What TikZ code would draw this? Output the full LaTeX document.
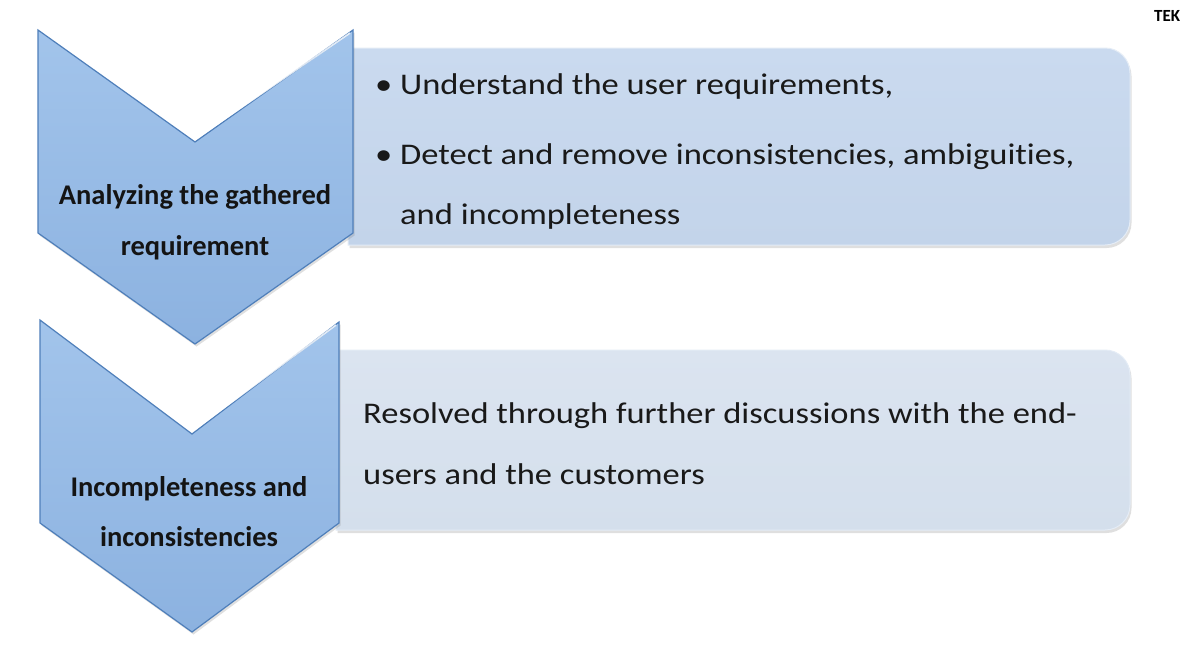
\documentclass[tikz,border=0pt]{standalone}
\usepackage{fontspec}
\setmainfont{Carlito}[Ligatures=NoCommon]
\newfontfamily\bodyfont{Carlito}[Ligatures=NoCommon, FakeStretch=1.15]
\usetikzlibrary{shadows}
\definecolor{chevtop}{HTML}{A2C4EB}
\definecolor{chevbot}{HTML}{8CB2E0}
\definecolor{chevline}{HTML}{4F7FBA}
\definecolor{boxone}{HTML}{C3D4EA}
\definecolor{boxonetop}{HTML}{CADAEF}
\definecolor{boxtwo}{HTML}{D4DFEC}
\definecolor{boxtwotop}{HTML}{DBE4F0}
\definecolor{boxline}{HTML}{E4ECF6}
\tikzset{
  chev/.style={draw=chevline, line width=1.2pt, top color=chevtop, bottom color=chevbot,
    drop shadow={opacity=0.25, shadow xshift=1.5pt, shadow yshift=-2.5pt}},
  panel/.style={draw=boxline, line width=1pt,
    drop shadow={opacity=0.25, shadow xshift=1.5pt, shadow yshift=-3pt}},
  chevtext/.style={font=\fontsize{28.5}{33}\selectfont\bfseries, text=black!92, inner sep=0pt, anchor=base},
  bodytext/.style={font=\bodyfont\fontsize{30}{35}\selectfont, text=black!90, inner sep=0pt, anchor=base west},
  hilite/.style={draw=white, line width=1.6pt, opacity=0.8}
}
\begin{document}
\begin{tikzpicture}[x=1pt,y=-1pt]
\useasboundingbox (0,0) rectangle (1182,651);
\fill[white] (0,0) rectangle (1182,651);
\begin{scope}
\clip (0,0) rectangle (1182,651);
% top right clipped label
\node[font=\fontsize{17}{20}\selectfont\bfseries, anchor=base west, inner sep=0pt] (tek) at (1154,21) {TEK};
\end{scope}
% panel 1
\path[panel, top color=boxonetop, bottom color=boxone]
  (348,48) -- (1105,48) arc[start angle=-90, end angle=0, radius=25]
  -- (1130,220) arc[start angle=0, end angle=90, radius=25] -- (348,245) -- cycle;
% panel 2
\path[panel, top color=boxtwotop, bottom color=boxtwo]
  (336,350) -- (1105,350) arc[start angle=-90, end angle=0, radius=25]
  -- (1130,505) arc[start angle=0, end angle=90, radius=25] -- (336,530) -- cycle;
% chevron 1
\path[chev] (38,30) -- (195,142) -- (353,30) -- (353,233) -- (195,344) -- (38,233) -- cycle;
\draw[hilite] (197,138) -- (350,33);
% chevron 2
\path[chev] (40,320) -- (192,434) -- (339,322) -- (339,523) -- (192,632) -- (40,523) -- cycle;
\draw[hilite] (194,430) -- (336,325);
% chevron labels
\node[chevtext] (c1a) at (195,204) {Analyzing the gathered};
\node[chevtext] (c1b) at (195,255) {requirement};
\node[chevtext] (c2a) at (189,496) {Incompleteness and};
\node[chevtext] (c2b) at (189,546) {inconsistencies};
% panel 1 text
\node[bodytext] (b1) at (375,94) {\textbullet};
\node[bodytext] (t1) at (400,94) {Understand the user requirements,};
\node[bodytext] (b2) at (375,164) {\textbullet};
\node[bodytext] (t2) at (400,164) {Detect and remove inconsistencies, ambiguities,};
\node[bodytext] (t3) at (400,224) {and incompleteness};
% panel 2 text
\node[bodytext] (r1) at (363,423) {Resolved through further discussions with the end-};
\node[bodytext] (r2) at (363,484) {users and the customers};
\end{tikzpicture}
\end{document}
